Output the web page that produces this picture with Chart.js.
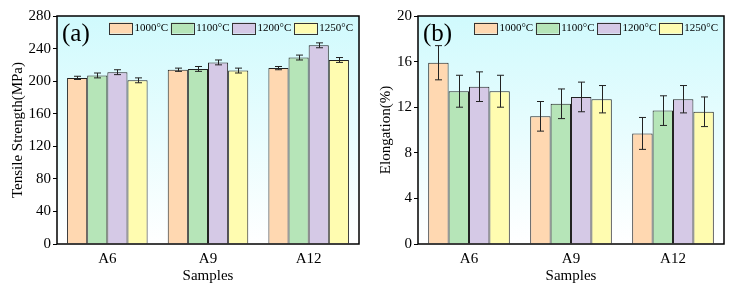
<!DOCTYPE html>
<html>
<head>
<meta charset="utf-8">
<script src="https://cdn.jsdelivr.net/npm/chart.js@4.4.0/dist/chart.umd.min.js"></script>
<style>
  html, body { margin: 0; padding: 0; background: #fff; }
  #wrap { width: 730px; height: 289px; display: flex; }
  .box { width: 365px; height: 289px; position: relative; }
</style>
</head>
<body>
<div id="wrap">
  <div class="box"><canvas id="chartA"></canvas></div>
  <div class="box"><canvas id="chartB"></canvas></div>
</div>
<script>
// categories and series
const samples = ['A6', 'A9', 'A12'];
const temps = ['1000°C', '1100°C', '1200°C', '1250°C'];
const fills = ['#FFD8B1', '#B6E5B8', '#D5C9E6', '#FFFCB0'];

// (a) tensile strength, MPa
const strength1000 = [204, 214, 216];
const strength1100 = [207, 215, 229];
const strength1200 = [211, 223, 244];
const strength1250 = [201, 213, 226];
const strengthErr1000 = [2, 2, 2];
const strengthErr1100 = [3, 3, 3];
const strengthErr1200 = [3, 3, 3];
const strengthErr1250 = [3, 3, 3];

// (b) elongation, %
const elong1000 = [15.9, 11.2, 9.7];
const elong1100 = [13.4, 12.3, 11.7];
const elong1200 = [13.8, 12.9, 12.7];
const elong1250 = [13.4, 12.7, 11.6];
const elongErr1000 = [1.5, 1.3, 1.4];
const elongErr1100 = [1.4, 1.3, 1.3];
const elongErr1200 = [1.3, 1.3, 1.2];
const elongErr1250 = [1.4, 1.2, 1.3];

const serif = "'Liberation Serif', 'Times New Roman', serif";

// light cyan to white behind the bars
const bgPlugin = {
  id: 'bgGrad',
  beforeDraw(chart) {
    const a = chart.chartArea;
    const ctx = chart.ctx;
    const g = ctx.createLinearGradient(0, a.top, 0, a.bottom);
    g.addColorStop(0, '#D0FAFD');
    g.addColorStop(1, '#FFFFFF');
    ctx.save();
    ctx.fillStyle = g;
    ctx.fillRect(a.left, a.top, a.right - a.left, a.bottom - a.top);
    ctx.restore();
  }
};

// error bars, frame, legend inside the plot, panel letter
const extrasPlugin = {
  id: 'extras',
  afterDatasetsDraw(chart) {
    const ctx = chart.ctx;
    const y = chart.scales.y;
    ctx.save();
    ctx.strokeStyle = '#222';
    ctx.lineWidth = 1;
    chart.data.datasets.forEach((ds, i) => {
      const meta = chart.getDatasetMeta(i);
      meta.data.forEach((bar, j) => {
        const v = ds.data[j], e = ds.errors[j];
        const top = y.getPixelForValue(v + e);
        const bot = y.getPixelForValue(v - e);
        const x = Math.round(bar.x) + 0.5;
        ctx.beginPath();
        ctx.moveTo(x, top); ctx.lineTo(x, bot);
        ctx.moveTo(x - 3.5, top); ctx.lineTo(x + 3.5, top);
        ctx.moveTo(x - 3.5, bot); ctx.lineTo(x + 3.5, bot);
        ctx.stroke();
      });
    });
    ctx.restore();
  },
  afterDraw(chart, args, opts) {
    const a = chart.chartArea;
    const ctx = chart.ctx;
    ctx.save();
    ctx.strokeStyle = '#000';
    ctx.lineWidth = 1.5;
    ctx.strokeRect(a.left, a.top, a.right - a.left, a.bottom - a.top);

    // legend, right aligned in the top of the plot
    ctx.font = '11px ' + serif;
    ctx.textBaseline = 'middle';
    const bw = 23, bh = 11, gap = 2.5;
    const items = chart.data.datasets.map(ds => ({ label: ds.label, fill: ds.backgroundColor, w: ctx.measureText(ds.label).width }));
    let total = 0;
    items.forEach((it, k) => { total += bw + gap + it.w + (k < items.length - 1 ? gap : 0); });
    let x = a.right - 6 - total;
    const yMid = a.top + 12;
    items.forEach(it => {
      ctx.fillStyle = it.fill;
      ctx.fillRect(x, yMid - bh / 2, bw, bh);
      ctx.strokeStyle = '#333';
      ctx.lineWidth = 1;
      ctx.strokeRect(Math.round(x) + 0.5, Math.round(yMid - bh / 2) + 0.5, bw, bh);
      ctx.fillStyle = '#000';
      ctx.fillText(it.label, x + bw + gap, yMid + 0.5);
      x += bw + gap + it.w + gap;
    });

    ctx.fillStyle = '#000';
    ctx.font = '25px ' + serif;
    ctx.textBaseline = 'top';
    ctx.fillText(opts.letter, a.left + 5, a.top + 6);
    ctx.restore();
  }
};

function makeChart(id, letter, series, errs, yMax, yStep, yTitle, padLeft, yWidth) {
  const datasets = temps.map((t, i) => ({
    label: t,
    data: series[i],
    errors: errs[i],
    backgroundColor: fills[i],
    borderColor: '#222',
    borderWidth: 1,
    categoryPercentage: 0.8,
    barPercentage: 1.0
  }));
  return new Chart(document.getElementById(id), {
    type: 'bar',
    data: { labels: samples, datasets: datasets },
    plugins: [bgPlugin, extrasPlugin],
    options: {
      responsive: false,
      animation: false,
      layout: { padding: { left: padLeft, right: 6, top: 16, bottom: 0 } },
      scales: {
        x: {
          grid: { display: false, drawTicks: false },
          border: { display: false },
          ticks: { color: '#000', font: { family: serif, size: 15 }, padding: 6 },
          title: { display: true, text: 'Samples', color: '#000', font: { family: serif, size: 15 }, padding: { top: 0 } },
          afterFit: (s) => { s.height = 45; }
        },
        y: {
          min: 0,
          max: yMax,
          grid: { drawOnChartArea: false, drawTicks: true, tickLength: 4, color: '#000' },
          border: { display: false },
          ticks: { stepSize: yStep, color: '#000', font: { family: serif, size: 15 }, padding: 2 },
          title: { display: true, text: yTitle, color: '#000', font: { family: serif, size: 15 }, padding: { bottom: 0 } },
          afterFit: (s) => { s.width = yWidth; }
        }
      },
      plugins: {
        extras: { letter: letter },
        tooltip: { enabled: false },
        legend: { display: false }
      }
    }
  });
}

document.getElementById('chartA').width = 365;
document.getElementById('chartA').height = 289;
document.getElementById('chartB').width = 365;
document.getElementById('chartB').height = 289;

makeChart('chartA', '(a)',
  [strength1000, strength1100, strength1200, strength1250],
  [strengthErr1000, strengthErr1100, strengthErr1200, strengthErr1250],
  280, 40, 'Tensile Strength(MPa)', 5, 52);

makeChart('chartB', '(b)',
  [elong1000, elong1100, elong1200, elong1250],
  [elongErr1000, elongErr1100, elongErr1200, elongErr1250],
  20, 4, 'Elongation(%)', 8, 45);
</script>
</body>
</html>
